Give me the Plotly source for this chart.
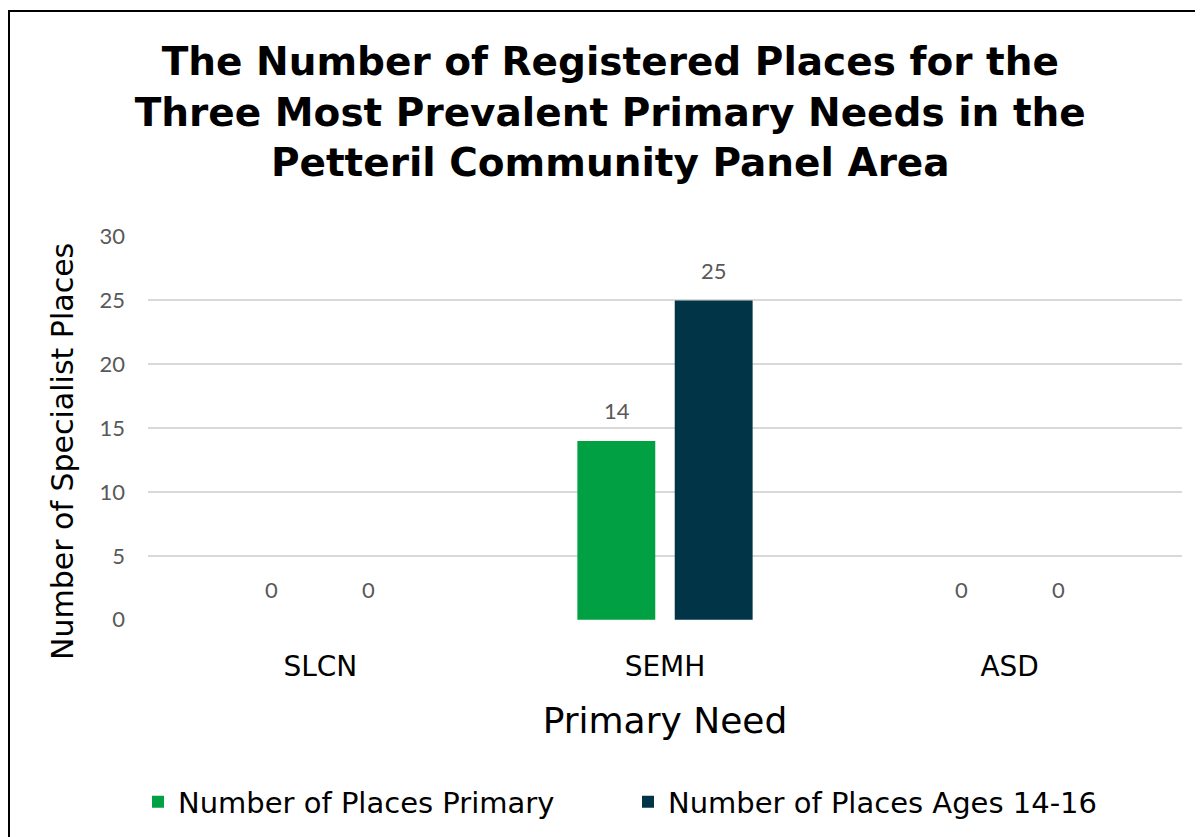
import plotly.graph_objects as go

# Data
needs = ["SLCN", "SEMH", "ASD"]
places_primary = [0, 14, 0]
places_14_16 = [0, 25, 0]
y_ticks = [0, 5, 10, 15, 20, 25, 30]

title = ("<b>The Number of Registered Places for the<br>"
         "Three Most Prevalent Primary Needs in the<br>"
         "Petteril Community Panel Area</b>")

# figure sits 8px in from the page corner (body margin)
W, H = 1195, 829
L, R, T, B = 140, 21, 228, 217
pw, ph = W - L - R, H - T - B


def px_x(x):
    return (x - L) / pw


def px_y(y):
    return (H - B - y) / ph


wide = "DejaVu Sans, Verdana, sans-serif"
label_font = dict(family="Lato, Noto Sans, sans-serif", size=22, color="#595959")

fig = go.Figure()

fig.add_trace(go.Bar(
    name="Number of Places Primary",
    x=needs,
    y=places_primary,
    marker=dict(color="#00A043", line=dict(width=0)),
))

fig.add_trace(go.Bar(
    name="Number of Places Ages 14-16",
    x=needs,
    y=places_14_16,
    marker=dict(color="#003446", line=dict(width=0)),
))

# data labels sit a fixed distance above each bar
for series, shift in [(places_primary, -48.5), (places_14_16, 48.5)]:
    for need, val in zip(needs, series):
        fig.add_annotation(
            x=need,
            y=val,
            text=str(val),
            showarrow=False,
            xshift=shift,
            yshift=30,
            yanchor="middle",
            font=label_font,
        )

fig.update_layout(
    width=W,
    height=H,
    margin=dict(l=L, r=R, t=T, b=B, autoexpand=False),
    paper_bgcolor="white",
    plot_bgcolor="white",
    barmode="group",
    bargap=0.435,
    bargroupgap=0.2,
    title=dict(
        text=title,
        x=0.504,
        xanchor="center",
        xref="container",
        yref="container",
        y=1 - 67 / H,
        yanchor="top",
        font=dict(family=wide, size=39, color="black"),
    ),
    font=dict(family=wide, color="black"),
    legend=dict(
        orientation="h",
        x=px_x(130),
        xanchor="left",
        y=px_y(794),
        yanchor="middle",
        font=dict(size=29, color="black"),
        itemwidth=30,
        entrywidth=445,
        traceorder="normal",
    ),
    showlegend=True,
)

fig.update_yaxes(
    range=[-0.02, 30.05],
    tickvals=y_ticks,
    showgrid=True,
    gridcolor="#D9D9D9",
    gridwidth=1.5,
    zeroline=False,
    showline=False,
    tickfont=label_font,
    ticks="",
    ticklabelstandoff=22,
)

fig.update_xaxes(
    showline=False,
    ticks="",
    tickfont=dict(size=28, color="black"),
    ticklabelstandoff=27,
    title=dict(text="Primary Need", font=dict(size=36, color="black"), standoff=25),
)

# y axis title placed by hand (sits a little below the plot centre)
fig.add_annotation(
    text="Number of Specialist Places",
    textangle=-90,
    xref="paper",
    yref="paper",
    x=px_x(54),
    y=px_y(444),
    xanchor="center",
    yanchor="middle",
    showarrow=False,
    font=dict(family=wide, size=30, color="black"),
)

# outer frame of the chart
fig.add_shape(
    type="rect",
    xref="paper",
    yref="paper",
    x0=px_x(1),
    x1=px_x(W + 20),
    y0=px_y(H + 20),
    y1=px_y(3),
    line=dict(color="black", width=2),
    fillcolor="rgba(0,0,0,0)",
    layer="above",
)

fig.write_html("out.html")
